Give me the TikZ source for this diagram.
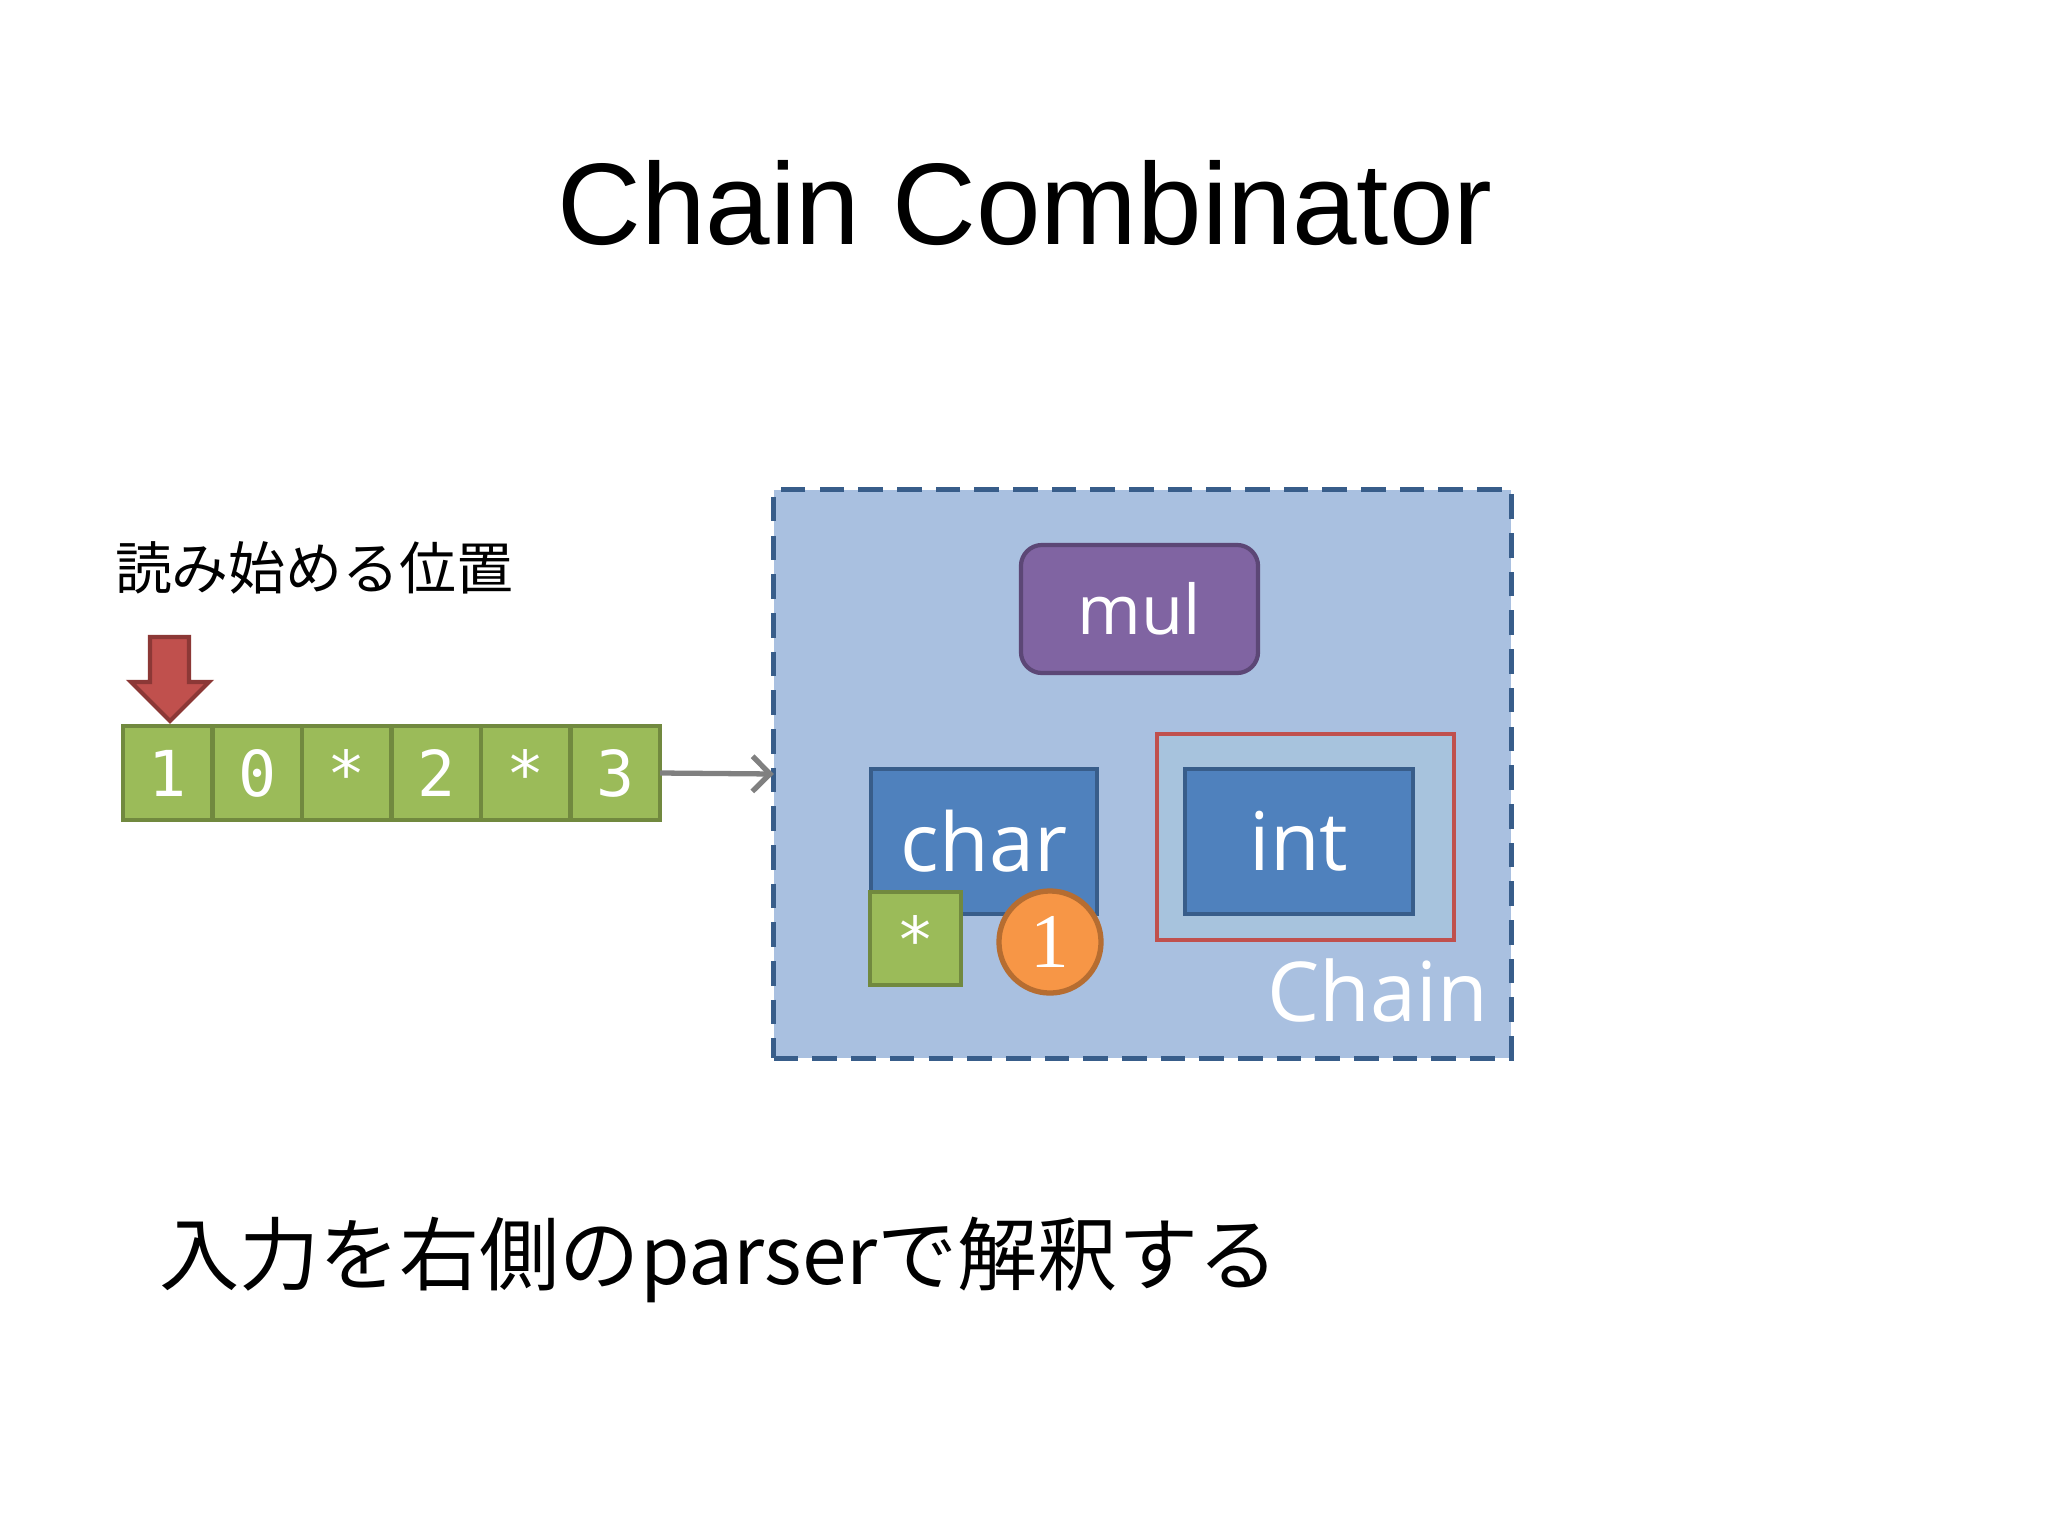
\documentclass[tikz,border=0pt]{standalone}
\usepackage{fontspec}
\setmainfont{Noto Sans CJK JP}
\newfontfamily\titlefont{Liberation Sans}
\newfontfamily\labelfont{Open Sans}
\newfontfamily\cellfont{DejaVu Sans Mono}
\newfontfamily\numfont{Liberation Serif}
\usetikzlibrary{arrows.meta}
\definecolor{cellgreen}{HTML}{9BBB59}
\definecolor{celledge}{HTML}{71893F}
\definecolor{pointred}{HTML}{C0504D}
\definecolor{pointedge}{HTML}{8C3836}
\definecolor{feedgray}{HTML}{808080}
\definecolor{chainfill}{HTML}{A9C0E0}
\definecolor{chainedge}{HTML}{385D8A}
\definecolor{mulfill}{HTML}{8064A2}
\definecolor{muledge}{HTML}{5C4776}
\definecolor{parserfill}{HTML}{4F81BD}
\definecolor{parseredge}{HTML}{385D8A}
\definecolor{framefill}{HTML}{A7C3DD}
\definecolor{onefill}{HTML}{F79646}
\definecolor{oneedge}{HTML}{B66D31}

\begin{document}
\begin{tikzpicture}[x=0.01cm,y=-0.01cm]
\tikzstyle{every node}=[inner sep=0pt,outer sep=0pt]
\tikzstyle{cell}=[draw=celledge,fill=cellgreen,line width=1.2pt,minimum width=0.895cm,minimum height=0.94cm,text=white,font=\cellfont\fontsize{18}{20}\selectfont]
\tikzstyle{parser}=[draw=parseredge,fill=parserfill,line width=1.2pt,text=white,font=\labelfont\fontsize{23}{25}\selectfont]
\tikzstyle{feed}=[draw=feedgray,line width=1.5pt,-{Straight Barb[length=5pt,width=10pt]}]
\useasboundingbox (0,0) rectangle (2048,1536);
\fill[white] (0,0) rectangle (2048,1536);

% title
\node[anchor=base,font=\titlefont\fontsize{33}{36}\selectfont] (title) at (1025,244) {Chain Combinator};

% input and read position
\node[anchor=west,font=\fontsize{16.2}{18}\selectfont] (start) at (115,568) {読み始める位置};
\draw[fill=pointred,draw=pointedge,line width=1.2pt] (150,637) -- (189,637) -- (189,682) -- (209,682) -- (170,721) -- (131,682) -- (150,682) -- cycle;
\foreach \t [count=\i] in {1,0,*,2,*,3}
  \node[cell] (c\i) at (78.25+89.5*\i,773) {\t};

% chain parser
\node[draw=chainedge,fill=chainfill,line width=1.5pt,dash pattern=on 7pt off 4pt,minimum width=7.37cm,minimum height=5.68cm] (chainbox) at (1142.5,774) {};
\draw[feed] (c6.east) -- (chainbox.west);
\node[draw=muledge,fill=mulfill,line width=1.2pt,rounded corners=6pt,minimum width=2.37cm,minimum height=1.28cm,text=white,font=\labelfont\fontsize{19.5}{21}\selectfont] (mul) at (1139.5,609) {mul};
\node[parser,minimum width=2.26cm,minimum height=1.45cm] (char) at (984,841.5) {char};
\node[draw=pointred,fill=framefill,line width=1.2pt,minimum width=2.97cm,minimum height=2.06cm] (frame) at (1305.5,837) {};
\node[parser,minimum width=2.28cm,minimum height=1.45cm] (int) at (1299,841.5) {int};
\node[cell,minimum width=0.91cm,minimum height=0.93cm] (star) at (915.5,938.5) {*};
\node[circle,draw=oneedge,fill=onefill,line width=1.5pt,minimum size=1.02cm,text=white,font=\numfont\fontsize{22}{24}\selectfont] (one) at (1050,942) {1};
\node[anchor=base east,text=white,font=\labelfont\fontsize{23.5}{25}\selectfont] (chain) at (1488,1021) {Chain};

% caption
\node[anchor=west,font=\fontsize{22.8}{24}\selectfont] (note) at (159,1260) {入力を右側のparserで解釈する};
\end{tikzpicture}
\end{document}
